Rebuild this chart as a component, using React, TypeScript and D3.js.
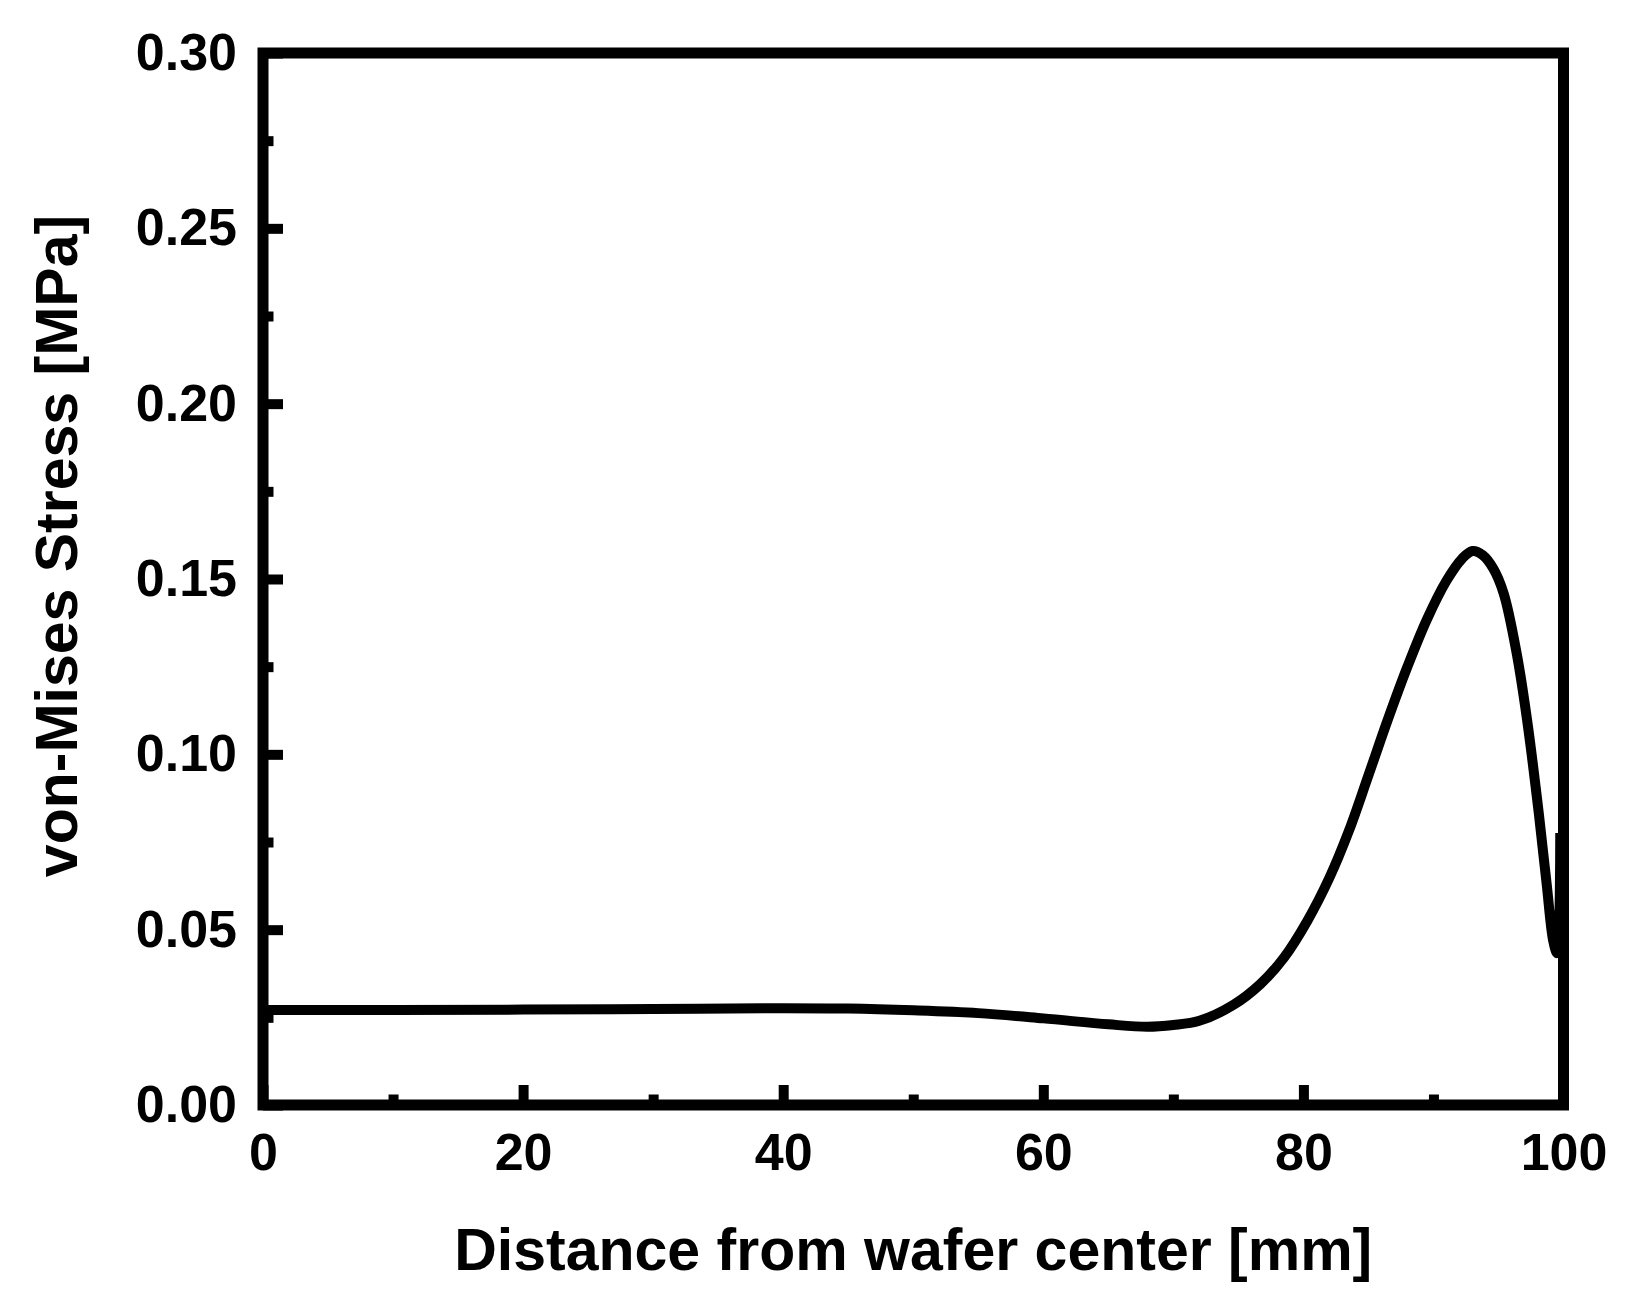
import { useRef, useEffect } from 'react';
import * as d3 from 'd3';

// distance from wafer center [mm]
const distance = [
  0, 10, 20, 30, 40, 45, 50, 55, 60, 65, 68, 70, 72, 74.6, 76.7, 78.5, 80.3, 82,
  83.5, 85, 86.5, 88, 89.5, 91, 92.2, 93, 93.8, 94.6, 95.4, 96.4, 97.2, 98.1,
  98.7, 99.2, 99.5, 99.75,
];
// von-Mises stress [MPa]
const stress = [
  0.0271, 0.0271, 0.0272, 0.0274, 0.0276, 0.0275, 0.027, 0.0262, 0.0247, 0.023,
  0.0223, 0.0228, 0.024, 0.0285, 0.0345, 0.042, 0.0525, 0.0648, 0.0782, 0.094,
  0.11, 0.125, 0.1385, 0.1495, 0.1558, 0.158, 0.1568, 0.153, 0.1459, 0.1288,
  0.1098, 0.0832, 0.0632, 0.047, 0.0433, 0.0776,
];
const xMajor = [0, 20, 40, 60, 80, 100];
const xMinor = [10, 30, 50, 70, 90];
const yMajor = [0, 0.05, 0.1, 0.15, 0.2, 0.25, 0.3];
const yMinor = [0.025, 0.075, 0.125, 0.175, 0.225, 0.275];

const xTitle = 'Distance from wafer center [mm]';
const yTitle = 'von-Mises Stress [MPa]';

export default function App() {
  const ref = useRef<SVGSVGElement>(null);

  useEffect(() => {
    if (!ref.current) return;

    const width = 1635;
    const height = 1311;
    const margin = { top: 53, right: 71.5, bottom: 206, left: 263 };
    const font = "'Liberation Sans', Arial, sans-serif";

    d3.select(ref.current).selectAll('*').remove();

    const svg = d3
      .select(ref.current)
      .attr('width', width)
      .attr('height', height);

    svg.append('rect').attr('width', width).attr('height', height).attr('fill', '#fff');

    const x = d3
      .scaleLinear()
      .domain([0, 100])
      .range([margin.left, width - margin.right]);

    const y = d3
      .scaleLinear()
      .domain([0, 0.3])
      .range([height - margin.bottom, margin.top]);

    const data = distance.map((d, i) => ({ d, s: stress[i] }));

    const line = d3
      .line<{ d: number; s: number }>()
      .x((p) => x(p.d))
      .y((p) => y(p.s))
      .curve(d3.curveCatmullRom.alpha(0.5));

    svg
      .append('path')
      .datum(data)
      .attr('d', line)
      .attr('fill', 'none')
      .attr('stroke', '#000')
      .attr('stroke-width', 10)
      .attr('stroke-linejoin', 'round');

    // frame
    svg
      .append('rect')
      .attr('x', x(0))
      .attr('y', y(0.3))
      .attr('width', x(100) - x(0))
      .attr('height', y(0) - y(0.3))
      .attr('fill', 'none')
      .attr('stroke', '#000')
      .attr('stroke-width', 11);

    const styleAxis = (g: d3.Selection<SVGGElement, unknown, null, undefined>) => {
      g.select('.domain').remove();
      g.selectAll('.tick line').attr('stroke', '#000').attr('stroke-width', 10);
      g.selectAll('.tick text')
        .attr('fill', '#000')
        .style('font-family', font)
        .style('font-weight', 'bold')
        .style('font-size', '52px');
    };

    const bottom = height - margin.bottom;

    svg
      .append('g')
      .attr('transform', `translate(0,${bottom})`)
      .call(d3.axisBottom(x).tickValues(xMinor).tickSizeInner(-10.5).tickSizeOuter(0).tickFormat(() => ''))
      .call(styleAxis);

    svg
      .append('g')
      .attr('transform', `translate(0,${bottom})`)
      .call(
        d3
          .axisBottom(x)
          .tickValues(xMajor)
          .tickSizeInner(-20)
          .tickSizeOuter(0)
          .tickPadding(28)
          .tickFormat((d) => d3.format('d')(d as number))
      )
      .call(styleAxis);

    svg
      .append('g')
      .attr('transform', `translate(${margin.left},0)`)
      .call(d3.axisLeft(y).tickValues(yMinor).tickSizeInner(-10.5).tickSizeOuter(0).tickFormat(() => ''))
      .call(styleAxis);

    svg
      .append('g')
      .attr('transform', `translate(${margin.left},0)`)
      .call(
        d3
          .axisLeft(y)
          .tickValues(yMajor)
          .tickSizeInner(-20)
          .tickSizeOuter(0)
          .tickPadding(26)
          .tickFormat((d) => d3.format('.2f')(d as number))
      )
      .call(styleAxis);

    svg
      .append('text')
      .attr('x', (x(0) + x(100)) / 2)
      .attr('y', 1270)
      .attr('text-anchor', 'middle')
      .style('font-family', font)
      .style('font-weight', 'bold')
      .style('font-size', '59px')
      .text(xTitle);

    svg
      .append('text')
      .attr('transform', `translate(77,546) rotate(-90)`)
      .attr('text-anchor', 'middle')
      .style('font-family', font)
      .style('font-weight', 'bold')
      .style('font-size', '59px')
      .text(yTitle);
  }, []);

  return <svg ref={ref} style={{ position: 'absolute', left: 0, top: 0 }}></svg>;
}
